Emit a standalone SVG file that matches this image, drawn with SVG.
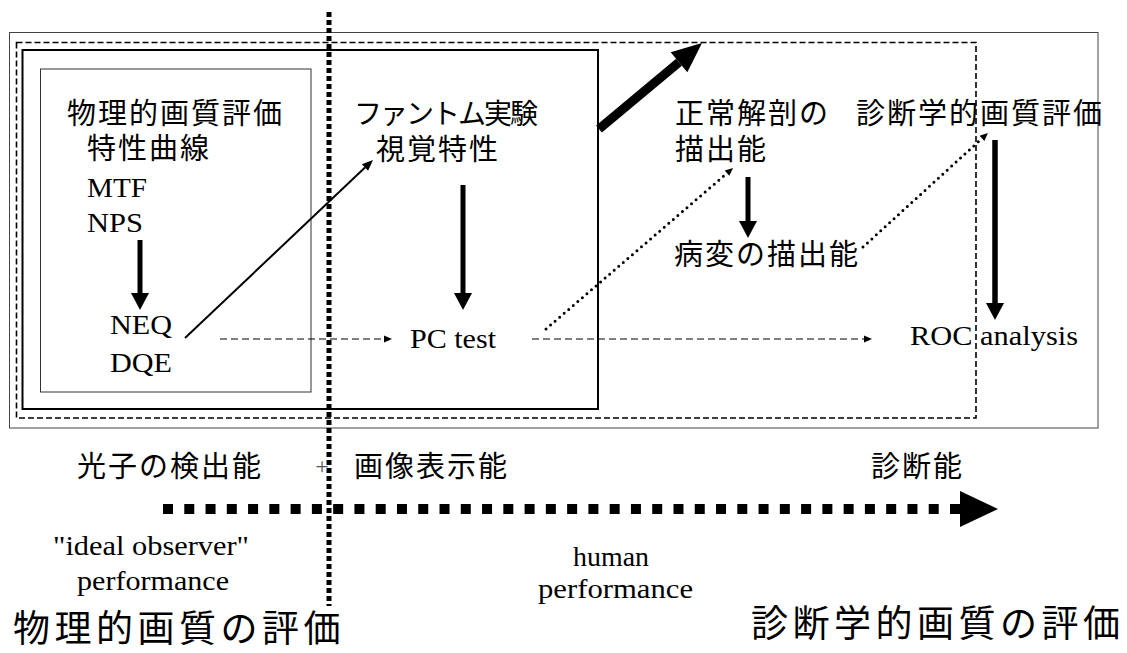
<svg xmlns="http://www.w3.org/2000/svg" width="1127" height="653" viewBox="0 0 1127 653">
  <style>
    .jp { font-family: "Noto Sans CJK JP", "Noto Sans", sans-serif; font-size: 29px; letter-spacing: 2px; fill: #000; }
    .jpbig { font-family: "Noto Sans CJK JP", "Noto Sans", sans-serif; font-size: 37px; letter-spacing: 4.5px; fill: #000; }
    .en { font-family: "Liberation Serif", "Times New Roman", serif; font-size: 28px; letter-spacing: 0px; fill: #000; }
    .dash { stroke: #000; stroke-width: 1; stroke-dasharray: 7 4; fill: none; }
    .dot { stroke: #000; stroke-width: 3; stroke-dasharray: 0 6; stroke-linecap: round; fill: none; }
  </style>
  <defs>
    <marker id="mThick" markerUnits="userSpaceOnUse" markerWidth="18" markerHeight="18" refX="0" refY="9" orient="auto" overflow="visible">
      <path d="M0,0 L17,9 L0,18 z" fill="#000"/>
    </marker>
    <marker id="mHuge" markerUnits="userSpaceOnUse" markerWidth="30" markerHeight="26" refX="0" refY="13" orient="auto" overflow="visible">
      <path d="M0,0 L30,13 L0,26 z" fill="#000"/>
    </marker>
    <marker id="mSmall" markerUnits="userSpaceOnUse" markerWidth="11" markerHeight="9" refX="0" refY="4.5" orient="auto" overflow="visible">
      <path d="M0,0 L11,4.5 L0,9 z" fill="#000"/>
    </marker>
    <marker id="mTiny" markerUnits="userSpaceOnUse" markerWidth="8" markerHeight="7" refX="0" refY="3.5" orient="auto" overflow="visible">
      <path d="M0,0 L8,3.5 L0,7 z" fill="#000"/>
    </marker>
  </defs>

  <rect width="1127" height="653" fill="#fff"/>

  <g id="frames">
    <rect x="9.5" y="32.5" width="1088.5" height="395.5" fill="none" stroke="#444" stroke-width="1"/>
    <rect x="16.5" y="42.5" width="959.5" height="375.5" fill="none" stroke="#000" stroke-width="1.6" stroke-dasharray="6 3"/>
    <rect x="22.5" y="50" width="575.5" height="359" fill="none" stroke="#000" stroke-width="2"/>
    <rect x="40.5" y="69" width="270.5" height="323" fill="none" stroke="#333" stroke-width="1"/>
  </g>

  <g id="divider">
    <line x1="329" y1="12" x2="329" y2="606" stroke="#000" stroke-width="5" stroke-dasharray="5 3"/>
  </g>

  <g id="node-physical">
    <text class="jp"><tspan x="67" y="124">物理的画質評価</tspan><tspan x="87" y="159">特性曲線</tspan><tspan class="en" x="87" y="197" textLength="60" lengthAdjust="spacingAndGlyphs">MTF</tspan><tspan class="en" x="87" y="232" textLength="56" lengthAdjust="spacingAndGlyphs">NPS</tspan></text>
  </g>
  <g id="node-neq">
    <text class="en"><tspan x="110" y="334" textLength="62" lengthAdjust="spacingAndGlyphs">NEQ</tspan><tspan x="110" y="372" textLength="62" lengthAdjust="spacingAndGlyphs">DQE</tspan></text>
  </g>
  <g id="node-phantom">
    <text class="jp"><tspan x="354" y="124" style="font-size:28px;letter-spacing:-2px">ファントム実験</tspan><tspan x="376" y="160">視覚特性</tspan></text>
  </g>
  <g id="node-pctest">
    <text class="en" x="410" y="348" textLength="86" lengthAdjust="spacingAndGlyphs">PC test</text>
  </g>
  <g id="node-normal">
    <text class="jp"><tspan x="675" y="124">正常解剖の</tspan><tspan x="675" y="160">描出能</tspan></text>
  </g>
  <g id="node-lesion">
    <text class="jp" x="674" y="265">病変の描出能</text>
  </g>
  <g id="node-diagnostic">
    <text class="jp" x="856" y="124">診断学的画質評価</text>
  </g>
  <g id="node-roc">
    <text class="en" x="910" y="345" textLength="168" lengthAdjust="spacingAndGlyphs">ROC analysis</text>
  </g>

  <g id="connectors">
    <line x1="140" y1="240" x2="140" y2="293" stroke="#000" stroke-width="5" marker-end="url(#mThick)"/>
    <line x1="463" y1="185" x2="463" y2="293" stroke="#000" stroke-width="5" marker-end="url(#mThick)"/>
    <line x1="748" y1="177" x2="748" y2="221" stroke="#000" stroke-width="5" marker-end="url(#mThick)"/>
    <line x1="995" y1="140" x2="995" y2="303" stroke="#000" stroke-width="5.5" marker-end="url(#mThick)"/>
    <line x1="185" y1="338" x2="365" y2="167.6" stroke="#000" stroke-width="2" marker-end="url(#mSmall)"/>
    <line class="dash" x1="220" y1="339" x2="384" y2="339" marker-end="url(#mTiny)"/>
    <line class="dash" x1="532" y1="339" x2="864" y2="339" marker-end="url(#mTiny)"/>
    <line class="dot" x1="546" y1="329" x2="727" y2="173.2" marker-end="url(#mTiny)"/>
    <line class="dot" x1="863" y1="247" x2="982" y2="138.4" marker-end="url(#mTiny)"/>
    <line x1="599" y1="129" x2="679" y2="62.2" stroke="#000" stroke-width="9" marker-end="url(#mHuge)"/>
    <line x1="163" y1="509" x2="960" y2="509" stroke="#000" stroke-width="10" stroke-dasharray="10 11.27"/>
    <polygon points="960,491 998,509 960,527" fill="#000"/>
  </g>

  <g id="axis-labels">
    <text class="jp" x="77" y="477">光子の検出能</text>
    <text x="322" y="474" text-anchor="middle" font-family="Liberation Serif, serif" font-size="24" fill="#555">+</text>
    <text class="jp" x="354" y="477">画像表示能</text>
    <text class="jp" x="871" y="477">診断能</text>
    <text class="en"><tspan x="53" y="555" textLength="196" lengthAdjust="spacingAndGlyphs">"ideal observer"</tspan><tspan x="77" y="590" textLength="152" lengthAdjust="spacingAndGlyphs">performance</tspan></text>
    <text class="en"><tspan x="573" y="566" textLength="76" lengthAdjust="spacingAndGlyphs">human</tspan><tspan x="538" y="598" textLength="155" lengthAdjust="spacingAndGlyphs">performance</tspan></text>
    <text class="jpbig" x="13" y="642">物理的画質の評価</text>
    <text class="jpbig" x="751" y="637">診断学的画質の評価</text>
  </g>
</svg>
